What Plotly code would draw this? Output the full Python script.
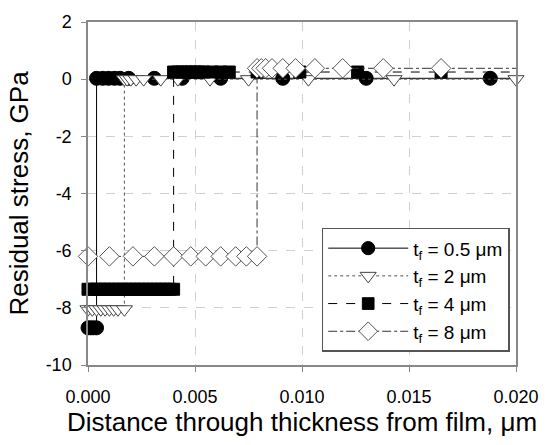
import plotly.graph_objects as go

# t_f = 0.5 um (circles, solid)
x1 = [0.0, 0.00013, 0.00026, 0.0004, 0.0004, 0.00069, 0.00096, 0.00124, 0.0015, 0.0019,
      0.0031, 0.0044, 0.0062, 0.0091, 0.0130, 0.0188, 0.0200]
y1 = [-8.7, -8.7, -8.7, -8.7, 0.03, 0.03, 0.03, 0.03, 0.03, 0.03,
      0.03, 0.03, 0.03, 0.03, 0.03, 0.03, 0.03]
m1 = [1]*16 + [0]

# t_f = 2 um (triangles, dotted)
x2 = [0.0, 0.0002, 0.0004, 0.0006, 0.0008, 0.001, 0.0012, 0.0014, 0.0017, 0.0017,
      0.00183, 0.002, 0.00225, 0.0026, 0.0034, 0.0042, 0.0057, 0.0075, 0.0103, 0.0143, 0.0200]
y2 = [-8.05]*9 + [0.0]*12
m2 = [1]*21

# t_f = 4 um (squares, dashed)
x3 = [0.0, 0.0002, 0.0004, 0.0006, 0.0008, 0.001, 0.0012, 0.0014, 0.0016, 0.0018, 0.002,
      0.0022, 0.0024, 0.0026, 0.0028, 0.003, 0.0032, 0.0034, 0.0036, 0.0038, 0.004,
      0.004, 0.0042, 0.0044, 0.0046, 0.0048, 0.005, 0.0052, 0.0054, 0.0058, 0.0062,
      0.0066, 0.0079, 0.0099, 0.0126, 0.0165, 0.0200]
y3 = [-7.35]*21 + [0.25]*16
m3 = [1]*36 + [0]

# t_f = 8 um (diamonds, dash-dot)
x4 = [0.0, 0.001, 0.0021, 0.0031, 0.004, 0.0048, 0.0055, 0.0062, 0.0069, 0.0074, 0.0079,
      0.0079, 0.0081, 0.0083, 0.0086, 0.0091, 0.0097, 0.0106, 0.0119, 0.0138, 0.0165, 0.0200]
y4 = [-6.2]*11 + [0.38]*11
m4 = [1]*21 + [0]

names = ["t<sub>f</sub> = 0.5 μm", "t<sub>f</sub> = 2 μm", "t<sub>f</sub> = 4 μm", "t<sub>f</sub> = 8 μm"]
x_ticks = [0, 0.005, 0.01, 0.015, 0.02]
x_labels = ["0.000", "0.005", "0.010", "0.015", "0.020"]
y_ticks = [-10, -8, -6, -4, -2, 0, 2]
y_labels = ["-10", "-8", "-6", "-4", "-2", "0", "2"]

fig = go.Figure()
series = [
    (x1, y1, m1, "circle", "#000000", "#000000", "solid", "#000000", 14),
    (x2, y2, m2, "triangle-down", "#ffffff", "#444444", "dot", "#555555", 14),
    (x3, y3, m3, "square", "#000000", "#000000", "dash", "#000000", 12),
    (x4, y4, m4, "diamond", "#ffffff", "#555555", "dashdot", "#333333", 15),
]
for (xs, ys, ms, sym, fill, mlc, dash, lcol, sz), nm in zip(series, names):
    fig.add_trace(go.Scatter(
        x=xs, y=ys, mode="lines+markers", name=nm, cliponaxis=False,
        line=dict(color=lcol, width=1, dash=dash),
        marker=dict(symbol=sym, size=[sz*v for v in ms], color=fill, opacity=1,
                    line=dict(color=mlc, width=1)),
    ))

fig.update_layout(
    width=551, height=445,
    margin=dict(l=88, r=28, t=15, b=80),
    paper_bgcolor="white", plot_bgcolor="white",
    font=dict(family="Liberation Sans, Arial", color="#000000", size=18),
    showlegend=True,
    legend=dict(x=0.546, y=0.40, xanchor="left", yanchor="top",
                bgcolor="white", bordercolor="#555555", borderwidth=1.5,
                font=dict(size=19), itemwidth=80),
    xaxis=dict(range=[0, 0.02], tickvals=x_ticks, ticktext=x_labels,
               showline=True, linecolor="#888888", linewidth=1.5, mirror=True,
               ticks="outside", ticklen=5, tickcolor="#888888", ticklabelstandoff=10,
               showgrid=True, gridcolor="#d0d0d0", griddash="dash", gridwidth=1,
               zeroline=False, tickfont=dict(size=18),
               title=dict(text="Distance through thickness from film, μm",
                          font=dict(size=26), standoff=0)),
    yaxis=dict(range=[-10, 2], tickvals=y_ticks, ticktext=y_labels,
               showline=True, linecolor="#888888", linewidth=1.5, mirror=True,
               ticks="outside", ticklen=5, tickcolor="#888888", ticklabelstandoff=6,
               showgrid=True, gridcolor="#d0d0d0", griddash="dash", gridwidth=1,
               zeroline=False, tickfont=dict(size=18),
               title=dict(text="Residual stress, GPa", font=dict(size=26), standoff=10)),
)

fig.write_html("out.html")
